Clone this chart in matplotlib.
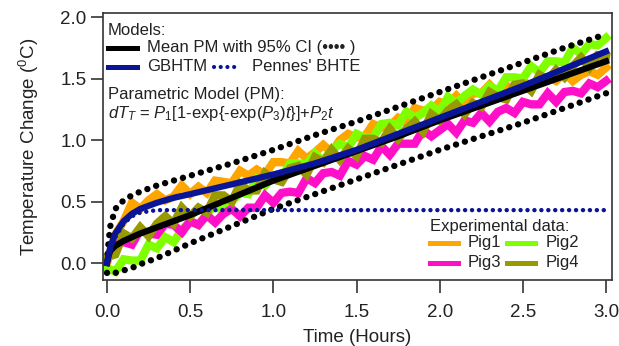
import numpy as np
import matplotlib
matplotlib.use("Agg")
import matplotlib.pyplot as plt

plt.rcParams['font.family'] = ['Liberation Sans', 'DejaVu Sans']
plt.rcParams['mathtext.fontset'] = 'custom'
plt.rcParams['mathtext.rm'] = 'Liberation Sans'
plt.rcParams['mathtext.it'] = 'Liberation Sans:italic'

# ---- experimental data (every 0.05 h, 0 -> 3 h) ----
t_pig = np.linspace(0, 3, 61)
pig1 = [0.00, 0.23, 0.34, 0.49, 0.44, 0.51, 0.56, 0.51, 0.54, 0.63,
        0.56, 0.62, 0.57, 0.67, 0.66, 0.65, 0.75, 0.71, 0.76, 0.72,
        0.82, 0.82, 0.81, 0.91, 0.85, 0.90, 0.96, 0.90, 1.00, 1.05,
        1.02, 1.03, 1.13, 1.10, 1.11, 1.18, 1.14, 1.26, 1.24, 1.24,
        1.31, 1.29, 1.36, 1.29, 1.38, 1.38, 1.45, 1.38, 1.44, 1.42,
        1.49, 1.42, 1.49, 1.51, 1.48, 1.55, 1.48, 1.53, 1.56, 1.53, 1.59]
pig2 = [-0.04, -0.07, 0.03, 0.02, 0.02, 0.15, 0.12, 0.21, 0.17, 0.27,
        0.34, 0.31, 0.40, 0.47, 0.42, 0.50, 0.57, 0.56, 0.68, 0.63,
        0.71, 0.69, 0.81, 0.81, 0.80, 0.89, 0.83, 0.92, 0.97, 0.94,
        1.05, 1.02, 1.02, 1.13, 1.14, 1.12, 1.23, 1.18, 1.22, 1.28,
        1.23, 1.35, 1.30, 1.36, 1.41, 1.37, 1.44, 1.40, 1.51, 1.51,
        1.50, 1.60, 1.55, 1.64, 1.64, 1.63, 1.75, 1.70, 1.78, 1.77, 1.83]
pig3 = [0.03, 0.15, 0.17, 0.15, 0.27, 0.24, 0.23, 0.32, 0.31, 0.25,
        0.34, 0.31, 0.39, 0.33, 0.40, 0.44, 0.38, 0.45, 0.45, 0.55,
        0.49, 0.57, 0.58, 0.57, 0.69, 0.65, 0.73, 0.74, 0.71, 0.83,
        0.80, 0.87, 0.84, 0.95, 0.88, 0.97, 0.97, 0.97, 1.08, 1.03,
        1.08, 1.13, 1.06, 1.16, 1.14, 1.22, 1.15, 1.23, 1.26, 1.22,
        1.31, 1.29, 1.29, 1.38, 1.31, 1.39, 1.40, 1.38, 1.46, 1.43, 1.48]
pig4 = [0.05, 0.07, 0.24, 0.20, 0.29, 0.22, 0.32, 0.38, 0.32, 0.45,
        0.38, 0.45, 0.41, 0.55, 0.55, 0.50, 0.64, 0.59, 0.59, 0.73,
        0.68, 0.66, 0.77, 0.79, 0.72, 0.86, 0.82, 0.92, 0.84, 0.93,
        0.87, 1.01, 1.01, 0.98, 1.09, 1.01, 1.09, 1.15, 1.07, 1.21,
        1.16, 1.24, 1.29, 1.21, 1.30, 1.27, 1.39, 1.35, 1.33, 1.45,
        1.46, 1.40, 1.53, 1.49, 1.57, 1.51, 1.60, 1.67, 1.59, 1.69, 1.68]

# ---- model curves ----
t_model = [0, 0.01, 0.02, 0.05, 0.1, 0.15, 0.2, 0.3, 0.4, 0.5, 0.75,
           1.0, 1.25, 1.5, 1.75, 2.0, 2.25, 2.5, 2.75, 3.0]
pm_mean = [0.0, 0.06, 0.10, 0.14, 0.18, 0.21, 0.24, 0.29, 0.34, 0.39, 0.53,
           0.67, 0.79, 0.91, 1.03, 1.16, 1.28, 1.40, 1.52, 1.64]
pm_upper = [0.0, 0.18, 0.30, 0.44, 0.51, 0.55, 0.58, 0.63, 0.67, 0.71, 0.81,
            0.92, 1.04, 1.15, 1.27, 1.39, 1.51, 1.63, 1.75, 1.86]
pm_lower = [-0.08, -0.09, -0.09, -0.08, -0.06, -0.04, -0.01, 0.04, 0.10, 0.16, 0.30,
            0.44, 0.56, 0.68, 0.80, 0.92, 1.03, 1.14, 1.26, 1.38]
gbhtm = [0.0, 0.07, 0.13, 0.24, 0.34, 0.40, 0.44, 0.49, 0.53, 0.56, 0.64,
         0.72, 0.81, 0.92, 1.05, 1.18, 1.31, 1.44, 1.58, 1.72]
pennes = [0.0, 0.05, 0.10, 0.21, 0.32, 0.38, 0.41, 0.43, 0.43, 0.43, 0.43,
          0.43, 0.43, 0.43, 0.43, 0.43, 0.43, 0.43, 0.43, 0.43]

c_pig = ['#FFA500', '#7FFF00', '#FF10C8', '#999900']
c_blue = '#0A1496'
c_txt = '#222222'

fig = plt.figure(figsize=(6.19, 3.46), dpi=100)
ax = fig.add_axes([0.1664, 0.1908, 0.8223, 0.7717])

for y, c in zip([pig1, pig2, pig3, pig4], c_pig):
    ax.plot(t_pig, y, color=c, lw=6, solid_joinstyle='miter')

dots_k = dict(color='black', lw=4.6, linestyle=(0, (0.01, 1.45)), dash_capstyle='round')
ax.plot(t_model, pm_upper, **dots_k)
ax.plot(t_model, pm_lower, **dots_k)
ax.plot(t_model, pm_mean, color='black', lw=4.5)
ax.plot(t_model, gbhtm, color=c_blue, lw=4.5)
ax.plot(t_model, pennes, color=c_blue, lw=3.2, linestyle=(0, (0.01, 1.55)), dash_capstyle='round')

ax.set_xlim(-0.024, 3.036)
ax.set_ylim(-0.138, 2.033)
ax.set_xticks([0, 0.5, 1.0, 1.5, 2.0, 2.5, 3.0])
ax.set_yticks([0, 0.5, 1.0, 1.5, 2.0])
ax.xaxis.set_major_formatter(matplotlib.ticker.FormatStrFormatter('%.1f'))
ax.yaxis.set_major_formatter(matplotlib.ticker.FormatStrFormatter('%.1f'))
ax.tick_params(axis='x', direction='out', length=9, width=1.1, pad=8, labelsize=13.5, colors=c_txt)
ax.tick_params(axis='y', direction='out', length=9, width=1.1, pad=3, labelsize=13.5, colors=c_txt)
for s in ax.spines.values():
    s.set_linewidth(1.2)
    s.set_color('#333333')

ax.set_xlabel('Time (Hours)', fontsize=13.5, labelpad=6, color=c_txt)
ax.set_ylabel('Temperature Change ($^0$C)', fontsize=13.5, labelpad=14, color=c_txt)

# ---- models legend (upper left) ----
tr = ax.transAxes
fs = 12
ax.text(0.01, 0.933, 'Models:', transform=tr, fontsize=fs, va='center', color=c_txt)
ax.plot([0.01, 0.067], [0.869, 0.869], transform=tr, color='black', lw=3.6)
ax.text(0.086, 0.869, 'Mean PM with 95% CI (•••• )', transform=tr, fontsize=fs, va='center', color=c_txt)
ax.plot([0.01, 0.067], [0.798, 0.798], transform=tr, color=c_blue, lw=3.6)
ax.text(0.086, 0.798, 'GBHTM', transform=tr, fontsize=fs, va='center', color=c_txt)
ax.plot([0.218, 0.263], [0.798, 0.798], transform=tr, color=c_blue, lw=3,
        linestyle=(0, (0.01, 1.6)), dash_capstyle='round')
ax.text(0.293, 0.798, "Pennes' BHTE", transform=tr, fontsize=fs, va='center', color=c_txt)
ax.text(0.01, 0.693, 'Parametric Model (PM):', transform=tr, fontsize=fs, va='center', color=c_txt)
ax.text(0.01, 0.625, r'$dT_T$ = $P_1$[1-exp{-exp($P_3$)$t$}]+$P_2t$', transform=tr,
        fontsize=fs, va='center', color=c_txt)

# ---- experimental data legend (lower right) ----
ax.text(0.642, 0.202, 'Experimental data:', transform=tr, fontsize=fs, va='center', color=c_txt)
names = ['Pig1', 'Pig2', 'Pig3', 'Pig4']
for i, (nm, c) in enumerate(zip(names, c_pig)):
    x0 = 0.642 if i % 2 == 0 else 0.794
    yy = 0.139 if i < 2 else 0.064
    ax.plot([x0, x0 + 0.055], [yy, yy], transform=tr, color=c, lw=3.6)
    ax.text(x0 + 0.075, yy, nm, transform=tr, fontsize=fs, va='center', color=c_txt)

fig.savefig('out.png', dpi=100)
